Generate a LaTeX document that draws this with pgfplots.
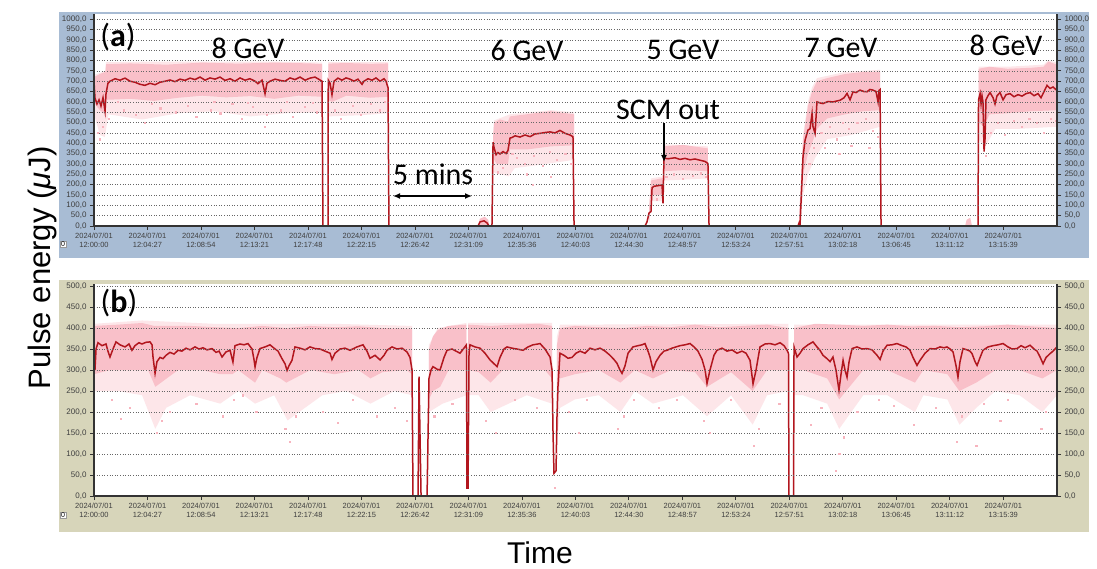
\documentclass[border=0pt]{standalone}
\usepackage{fontspec}
\setmainfont{Liberation Sans}
\newfontfamily\calfont{Carlito}
\usepackage{pgfplots}
\pgfplotsset{compat=1.18}
\usetikzlibrary{arrows.meta}
\definecolor{panelA}{RGB}{168,188,212}
\definecolor{panelB}{RGB}{215,213,186}
\definecolor{dred}{RGB}{178,22,30}
\definecolor{pinkD}{RGB}{249,192,201}
\definecolor{pinkL}{RGB}{253,230,233}
\definecolor{pinkS}{RGB}{247,180,190}
\pgfplotsset{
  common/.style={
    scale only axis, width=963pt,
    xmin=0, xmax=80.12, ymin=0,
    tick align=outside, major tick length=4pt,
    axis line style={black!80, line width=1.1pt},
    tick style={black!80, line width=0.8pt},
    xtick={0,4.45,8.9,13.35,17.8,22.25,26.7,31.15,35.6,40.05,44.5,48.95,53.4,57.85,62.3,66.75,71.2,75.65},
    xticklabels={{2024/07/01\\12:00:00},{2024/07/01\\12:04:27},{2024/07/01\\12:08:54},{2024/07/01\\12:13:21},{2024/07/01\\12:17:48},{2024/07/01\\12:22:15},{2024/07/01\\12:26:42},{2024/07/01\\12:31:09},{2024/07/01\\12:35:36},{2024/07/01\\12:40:03},{2024/07/01\\12:44:30},{2024/07/01\\12:48:57},{2024/07/01\\12:53:24},{2024/07/01\\12:57:51},{2024/07/01\\13:02:18},{2024/07/01\\13:06:45},{2024/07/01\\13:11:12},{2024/07/01\\13:15:39}},
    xticklabel style={align=center, font=\fontsize{7.5}{9}\selectfont, text=black!75},
    yticklabel style={font=\fontsize{8}{9}\selectfont, text=black!75},
    /pgf/number format/.cd, fixed, fixed zerofill, precision=1, use comma, 1000 sep={}, assume math mode=true,
  },
  mainax/.style={common, axis x line*=bottom, axis y line*=left,
    axis background/.style={fill=white}, axis on top,
    ymajorgrids, grid style={black!60, line width=0.7pt, dash pattern=on 1pt off 1.6pt}},
  rightax/.style={common, axis y line*=right, axis x line=none},
}
\begin{document}
\begin{tikzpicture}
\path[use as bounding box] (0,0) rectangle (1097pt,-569pt);
\fill[panelA] (59pt,-12pt) rectangle (1089pt,-258pt);
\fill[panelB] (59pt,-280pt) rectangle (1089pt,-532pt);

% ---------------- panel (a) ----------------
\begin{axis}[mainax, height=212pt, ymax=1025, ytick={0,50,...,1000},
  at={(94pt,-226pt)}, anchor=south west]
% light pink
\addplot[fill=pinkL, draw=none] coordinates {(0,730) (0.95,750) (1.0,792) (5,795) (10,795) (15,795) (18.97,790) (18.97,550) (16,545) (13,530) (10,555) (7,545) (4,515) (1.2,540) (0.9,430) (0.5,440) (0,540)};
\addplot[fill=pinkL, draw=none] coordinates {(19.49,792) (24.46,792) (24.46,545) (22,535) (19.49,530)};
\addplot[fill=pinkL, draw=none] coordinates {(33.20,430) (33.28,510) (34.61,540) (38,560) (39.94,550) (39.94,320) (37,295) (35,280) (34.5,240) (33.2,260)};
\addplot[fill=pinkL, draw=none] coordinates {(46.18,90) (46.34,230) (47.34,240) (47.42,395) (51.08,385) (51.08,230) (47.42,220) (47.34,120) (46.34,120) (46.18,0)};
\addplot[fill=pinkL, draw=none] coordinates {(58.66,40) (58.99,440) (59.40,600) (59.74,670) (60.15,715) (62.5,745) (65.40,755) (65.40,480) (63,440) (61,420) (60,330) (59.4,250) (58.99,150) (58.74,0)};
\addplot[fill=pinkL, draw=none] coordinates {(73.59,770) (76,770) (79,780) (79.4,800) (80.12,790) (80.12,480) (77,470) (75,470) (74.1,380) (73.59,420)};
% dense pink
\addplot[fill=pinkD, draw=none] coordinates {(0,720) (0.5,735) (0.95,745) (1.0,782) (3,786) (6,780) (9,790) (12,785) (15,790) (18,786) (18.97,782) (18.97,625) (17,630) (15,615) (13,628) (11,622) (9,630) (7,620) (5,605) (3,615) (1.0,610) (0.9,540) (0.5,560) (0.2,580) (0,600)};
\addplot[fill=pinkD, draw=none] coordinates {(19.49,785) (21,788) (23,784) (24.46,786) (24.46,625) (23,620) (21,630) (19.8,600) (19.49,610)};
\addplot[fill=pinkD, draw=none] coordinates {(33.20,420) (33.28,500) (33.78,515) (34.44,505) (34.61,530) (36,540) (38,555) (39.94,540) (39.94,390) (38,385) (36,370) (34.61,370) (34.44,300) (33.5,300) (33.20,330)};
\addplot[fill=pinkD, draw=none] coordinates {(46.18,80) (46.34,220) (47.34,232) (47.42,385) (49,392) (51.08,375) (51.08,265) (49,270) (47.42,265) (47.34,150) (46.34,150) (46.18,20)};
\addplot[fill=pinkD, draw=none] coordinates {(58.66,30) (58.99,420) (59.40,580) (59.74,650) (60.15,700) (61,715) (62.5,735) (64,745) (65.40,745) (65.40,560) (64,555) (62.5,540) (61,520) (60.15,470) (59.74,400) (59.40,350) (58.99,250) (58.74,0)};
\addplot[fill=pinkD, draw=none] coordinates {(73.59,760) (74.5,770) (76,760) (78,765) (79,770) (79.4,795) (80.12,780) (80.12,560) (78,555) (76,545) (74.5,540) (74.05,480) (73.59,500)};
\addplot[fill=pinkD, draw=none] coordinates {(31.95,0) (32.1,35) (32.5,45) (32.8,30) (32.9,0)};
\addplot[fill=pinkD, draw=none] coordinates {(72.47,0) (72.6,30) (72.9,40) (73.05,0)};
% scattered shots
\addplot[only marks, mark=square*, mark size=0.6pt, pinkS, mark options={draw=none}] coordinates {
(0.3,450) (0.5,420) (0.7,480) (1.2,520) (2.5,560) (3.5,540) (4.2,500) (5.5,570) (6.8,550) (7.8,580) (8.5,530) (9.7,560) (10.5,545) (11.5,590) (12.3,520) (13.2,575) (14.2,480) (14.4,540) (15.5,560) (16.5,530) (17.5,575) (18.5,550) (2,600) (4.8,590) (10,600) (12.8,595) (16,600) (18.2,595)
(20,560) (20.5,520) (21.5,580) (22.2,540) (23,590) (23.8,560) (24.2,600)
(34.8,350) (35.2,330) (35.8,300) (36.6,340) (37.3,290) (37.9,360) (38.5,320) (39.2,350) (39.7,300) (34,280) (33.6,260) (36,250) (38,240) (36.5,200)
(47.6,240) (48.2,250) (49,230) (49.8,245) (50.5,255) (50.9,240) (46.8,130)
(59.5,300) (59.9,380) (60.5,450) (61.2,480) (61.8,420) (62.3,500) (62.8,470) (63.5,500) (64.2,520) (64.8,460) (65.2,430) (60.8,380) (63,390) (64.5,380) (62,350)
(74.2,340) (74.6,450) (75.2,500) (75.8,440) (76.5,510) (77.2,480) (77.8,520) (78.4,500) (79,450) (79.6,520) (80,510)};
% pulse energy trace
\addplot[dred, line width=1.5pt] coordinates {
(0,700) (0.08,620) (0.25,590) (0.42,610) (0.58,580) (0.75,620) (0.92,555) (1.00,640) (1.16,690) (1.33,700) (1.75,712) (2.16,705) (2.58,715) (3.00,700) (3.41,695) (3.83,685) (4.24,680) (4.66,690) (5.08,683) (5.49,695) (5.91,700) (6.32,706) (6.74,698) (7.16,710) (7.57,704) (7.99,715) (8.40,708) (8.82,720) (9.24,705) (9.65,716) (10.07,710) (10.48,720) (10.90,704) (11.32,712) (11.73,700) (12.15,716) (12.56,705) (12.98,712) (13.40,700) (13.64,688) (13.98,705) (14.23,640) (14.39,690) (14.64,700) (15.06,710) (15.48,704) (15.89,700) (16.31,716) (16.72,708) (17.14,720) (17.56,705) (17.97,715) (18.39,720) (18.80,706) (18.97,700) (19.05,0) (19.47,0)
(19.49,705) (19.64,690) (19.80,635) (19.97,700) (20.30,715) (20.63,705) (20.97,716) (21.30,710) (21.63,700) (21.96,710) (22.30,685) (22.46,700) (22.80,712) (23.13,705) (23.46,716) (23.80,700) (24.13,712) (24.29,700) (24.46,670) (24.54,0)
(31.95,0) (32.12,20) (32.45,25) (32.70,15) (32.86,0) (33.11,0) (33.20,405) (33.28,380) (33.45,345) (33.61,355) (33.78,348) (34.03,360) (34.28,350) (34.44,365) (34.61,425) (34.78,428) (35.03,436) (35.44,430) (35.86,440) (36.28,432) (36.69,445) (37.11,448) (37.52,452) (37.94,455) (38.36,450) (38.77,462) (39.19,448) (39.60,440) (39.85,432) (39.94,0)
(45.84,0) (46.01,20) (46.18,63) (46.34,70) (46.43,185) (46.59,192) (46.93,195) (47.26,198) (47.34,110) (47.42,328) (47.76,325) (48.34,330) (48.76,322) (49.17,327) (49.59,320) (50.00,324) (50.42,318) (50.84,312) (51.08,302) (51.17,0)
(58.57,0) (58.66,15) (58.74,5) (58.99,335) (59.16,415) (59.40,464) (59.57,470) (59.74,544) (59.82,480) (59.99,448) (60.15,600) (60.40,595) (60.65,592) (61.07,602) (61.48,600) (62.07,608) (62.40,620) (62.65,641) (62.90,610) (63.15,649) (63.40,645) (63.73,657) (64.06,650) (64.31,649) (64.56,660) (64.81,657) (65.06,650) (65.23,600) (65.31,655) (65.40,660) (65.48,0)
(73.55,0) (73.59,610) (73.72,640) (73.80,590) (73.88,630) (73.96,600) (74.05,360) (74.13,420) (74.21,610) (74.38,630) (74.55,645) (74.80,620) (74.96,590) (75.13,630) (75.38,645) (75.63,610) (75.88,635) (76.21,640) (76.54,625) (76.88,635) (77.21,628) (77.54,640) (77.88,645) (78.21,630) (78.54,640) (78.79,620) (79.04,650) (79.29,680) (79.54,665) (79.79,672) (80.12,655)};
\end{axis}
\begin{axis}[rightax, height=212pt, ymax=1025, ytick={0,50,...,1000},
  at={(94pt,-226pt)}, anchor=south west]
\addplot[draw=none] coordinates {(0,0)};
\end{axis}

% ---------------- panel (b) ----------------
\begin{axis}[mainax, height=212.5pt, ymax=506, ytick={0,50,...,500},
  at={(94pt,-496pt)}, anchor=south west]
% light pink
\addplot[fill=pinkL, draw=none] coordinates {(0,410) (4,418) (10,410) (20,410) (26.46,405) (26.46,240) (25,250) (23,220) (21,250) (19,240) (16.1,180) (15,240) (13.4,220) (12,250) (10.5,220) (8,240) (6,210) (5.1,160) (4,240) (2,250) (0,250)};
\addplot[fill=pinkL, draw=none] coordinates {(27.87,360) (28.6,400) (30.99,412) (30.99,240) (29,220) (27.87,200)};
\addplot[fill=pinkL, draw=none] coordinates {(31.12,412) (38.11,412) (38.11,220) (36,240) (33,200) (32,240) (31.12,240)};
\addplot[fill=pinkL, draw=none] coordinates {(38.52,380) (38.77,408) (57.78,410) (57.78,250) (56,240) (54.8,170) (53,240) (51,190) (49,240) (46.5,220) (45,250) (43.8,200) (42,240) (40,230) (38.77,210) (38.52,120)};
\addplot[fill=pinkL, draw=none] coordinates {(58.24,408) (80.12,408) (80.12,240) (78.9,200) (77,240) (75,250) (73.4,210) (72,170) (71,230) (69,240) (68.3,200) (66,240) (64,240) (62,160) (61,220) (59,240) (58.24,240)};
% dense pink
\addplot[fill=pinkD, draw=none] coordinates {(0,405) (2,408) (4,412) (5,405) (8,405) (10,402) (12,400) (14,405) (16,400) (18,405) (20,402) (22,404) (24,400) (26.46,398) (26.46,290) (26,300) (24,295) (23,280) (22,300) (20,290) (18,300) (16,270) (15.5,280) (14,300) (13.4,270) (12,300) (11.5,290) (10.5,290) (9,300) (7,300) (5.1,260) (4.5,300) (2,300) (1.3,300) (0,290)};
\addplot[fill=pinkD, draw=none] coordinates {(27.87,350) (28.2,380) (28.6,395) (29.5,405) (30.99,408) (30.99,300) (29.5,300) (28.8,260) (28.2,250) (27.87,230)};
\addplot[fill=pinkD, draw=none] coordinates {(31.12,408) (33,405) (35,408) (37,410) (38.11,405) (38.11,280) (37.5,300) (36,300) (34,300) (33,270) (32,295) (31.12,300)};
\addplot[fill=pinkD, draw=none] coordinates {(38.52,360) (38.77,400) (40,405) (42,402) (44,400) (46,405) (48,402) (50,408) (52,402) (54,405) (56,408) (57.78,400) (57.78,300) (56,300) (54.8,250) (53,295) (51,260) (50,295) (48,300) (46.5,280) (45,300) (43.8,270) (42,300) (40,290) (38.77,280) (38.52,200)};
\addplot[fill=pinkD, draw=none] coordinates {(58.24,400) (60,410) (62,408) (64,405) (66,408) (68,404) (70,405) (72,402) (74,404) (76,408) (78,404) (80.12,400) (80.12,300) (78.9,280) (77,300) (75,300) (73.4,270) (72,250) (71,290) (69,300) (68.3,270) (66,300) (64,300) (62,230) (61,280) (59,300) (58.24,300)};
% scattered shots
\addplot[only marks, mark=square*, mark size=0.6pt, pinkS, mark options={draw=none}] coordinates {
(1.5,230) (3,210) (5.2,150) (5.6,180) (6.3,200) (8.5,220) (10.7,190) (11.6,230) (13.5,200) (15.9,160) (16.3,130) (16.8,190) (19,200) (21.5,230) (23.5,190) (25,210) (28.3,190) (29.8,220) (32.6,180) (33.4,150) (35,230) (36.8,210) (38.3,20) (38.5,100) (39.5,200) (41,230) (43.6,160) (44.1,190) (47,210) (50.7,180) (51.2,150) (53,230) (54.9,120) (55.3,160) (57,220) (60.5,210) (62,100) (62.4,140) (63.5,200) (65.3,230) (68.2,170) (70,210) (71.8,130) (72.2,190) (74,220) (76,230) (78.8,160) (79.2,200) (73.4,120) (66.5,215) (48.5,230) (44.9,230) (2.2,185) (12.4,240) (20.3,175) (26,180) (40.3,150) (59.6,170) (75.4,180) (61.7,60)};
% pulse energy trace
\addplot[dred, line width=1.5pt] coordinates {
(0,360) (0.08,300) (0.17,350) (0.33,365) (0.67,358) (1.00,362) (1.16,345) (1.33,331) (1.58,350) (1.83,367) (2.16,360) (2.58,355) (2.91,362) (3.16,347) (3.41,358) (3.74,365) (3.99,362) (4.33,366) (4.66,367) (4.83,360) (4.91,331) (5.08,292) (5.24,320) (5.49,330) (5.74,327) (5.99,335) (6.32,342) (6.66,338) (6.99,347) (7.32,345) (7.65,352) (7.99,348) (8.40,355) (8.74,350) (9.07,353) (9.40,348) (9.82,351) (10.15,342) (10.40,345) (10.65,331) (10.98,343) (11.32,347) (11.56,319) (11.73,358) (12.15,362) (12.48,360) (12.81,363) (13.15,350) (13.31,325) (13.40,307) (13.56,330) (13.81,351) (14.23,355) (14.64,360) (14.98,352) (15.31,345) (15.64,327) (15.89,315) (16.06,299) (16.22,310) (16.47,323) (16.72,355) (17.14,352) (17.56,348) (17.97,355) (18.39,351) (18.80,350) (19.22,345) (19.64,340) (19.80,325) (20.05,340) (20.47,350) (20.88,352) (21.30,347) (21.88,355) (22.38,360) (22.71,345) (22.96,328) (23.38,335) (23.80,324) (24.13,335) (24.38,347) (24.79,355) (25.21,350) (25.63,352) (26.04,343) (26.29,330) (26.46,300) (26.54,0) (26.96,0) (27.04,284) (27.21,0) (27.71,0) (27.87,280) (28.04,300) (28.20,308) (28.54,302) (28.79,300) (29.12,330) (29.37,347) (29.79,350) (30.12,345) (30.45,340) (30.78,352) (30.99,360) (31.03,19) (31.12,19) (31.20,340) (31.28,360) (31.70,355) (32.12,352) (32.53,340) (32.95,324) (33.28,315) (33.53,308) (33.78,330) (34.11,350) (34.36,355) (34.78,352) (35.19,350) (35.69,347) (36.11,355) (36.52,360) (36.94,362) (37.11,363) (37.52,350) (37.94,331) (38.11,300) (38.19,150) (38.27,54) (38.44,60) (38.52,189) (38.60,260) (38.77,340) (39.10,335) (39.44,328) (39.77,330) (40.10,340) (40.44,345) (40.85,340) (41.27,352) (41.68,348) (42.10,352) (42.52,345) (42.93,335) (43.26,325) (43.51,316) (43.76,300) (43.93,292) (44.18,310) (44.43,340) (44.84,355) (45.26,358) (45.59,360) (45.84,363) (46.09,345) (46.26,331) (46.51,300) (46.76,320) (47.09,335) (47.42,345) (47.67,347) (48.09,352) (48.42,355) (48.76,358) (49.17,360) (49.59,363) (49.92,355) (50.25,345) (50.59,325) (50.84,300) (51.00,268) (51.25,300) (51.58,335) (51.83,347) (52.25,352) (52.67,345) (53.08,348) (53.50,340) (53.91,345) (54.25,340) (54.58,323) (54.83,267) (55.08,300) (55.41,355) (55.83,362) (56.24,363) (56.66,360) (57.08,365) (57.41,358) (57.66,347) (57.78,340) (57.82,0) (58.20,0) (58.24,355) (58.49,331) (58.74,340) (58.99,351) (59.40,360) (59.82,367) (60.15,355) (60.40,347) (60.65,335) (60.99,327) (61.24,320) (61.48,331) (61.73,300) (61.98,252) (62.15,290) (62.32,323) (62.48,300) (62.65,283) (62.82,320) (63.07,351) (63.48,355) (63.90,350) (64.31,351) (64.73,348) (65.15,335) (65.40,325) (65.64,345) (65.98,359) (66.39,360) (66.81,363) (67.23,358) (67.56,355) (67.89,347) (68.14,330) (68.47,311) (68.72,323) (69.14,340) (69.56,351) (69.97,350) (70.39,355) (70.72,353) (70.97,355) (71.22,350) (71.47,343) (71.72,310) (71.88,283) (72.05,320) (72.30,351) (72.63,348) (72.88,345) (73.05,339) (73.30,320) (73.47,311) (73.72,330) (73.96,347) (74.38,355) (74.80,358) (75.21,360) (75.63,363) (76.04,355) (76.38,350) (76.79,351) (77.13,358) (77.46,353) (77.88,359) (78.21,350) (78.46,345) (78.71,331) (78.96,315) (79.21,330) (79.54,339) (79.79,345) (80.12,355)};
\end{axis}
\begin{axis}[rightax, height=212.5pt, ymax=506, ytick={0,50,...,500},
  at={(94pt,-496pt)}, anchor=south west]
\addplot[draw=none] coordinates {(0,0)};
\end{axis}

% ---------------- annotations ----------------
\node[draw=black!40, fill=white, inner sep=0.8pt, font=\fontsize{7}{8}\selectfont] at (63pt,-244pt) {0};
\node[draw=black!40, fill=white, inner sep=0.8pt, font=\fontsize{7}{8}\selectfont] at (63pt,-515pt) {0};
\node[font=\calfont\fontsize{32}{36}\selectfont] at (118pt,-37pt) {(\textbf{a})};
\node[font=\calfont\fontsize{32}{36}\selectfont] at (119pt,-303pt) {(\textbf{b})};
\node[font=\calfont\fontsize{30}{34}\selectfont] at (248pt,-48pt) {8 GeV};
\node[font=\calfont\fontsize{30}{34}\selectfont] at (527pt,-50pt) {6 GeV};
\node[font=\calfont\fontsize{30}{34}\selectfont] at (683pt,-50pt) {5 GeV};
\node[font=\calfont\fontsize{30}{34}\selectfont] at (841pt,-48pt) {7 GeV};
\node[font=\calfont\fontsize{30}{34}\selectfont] at (1006pt,-45pt) {8 GeV};
\node[font=\calfont\fontsize{30}{34}\selectfont] at (668pt,-110pt) {SCM out};
\draw[-{Latex[length=7pt,width=6pt]}, line width=1.3pt] (664pt,-123pt) -- (664pt,-162pt);
\node[font=\calfont\fontsize{30}{34}\selectfont] at (433pt,-174pt) {5 mins};
\draw[{Latex[length=7pt,width=6pt]}-{Latex[length=7pt,width=6pt]}, line width=1.3pt] (393pt,-196pt) -- (472pt,-196pt);
\node[rotate=90, font=\fontsize{31}{35}\selectfont] at (42pt,-268pt) {Pulse energy (\textit{μ}J)};
\node[font=\fontsize{30}{34}\selectfont] at (540pt,-553pt) {Time};
\end{tikzpicture}
\end{document}
